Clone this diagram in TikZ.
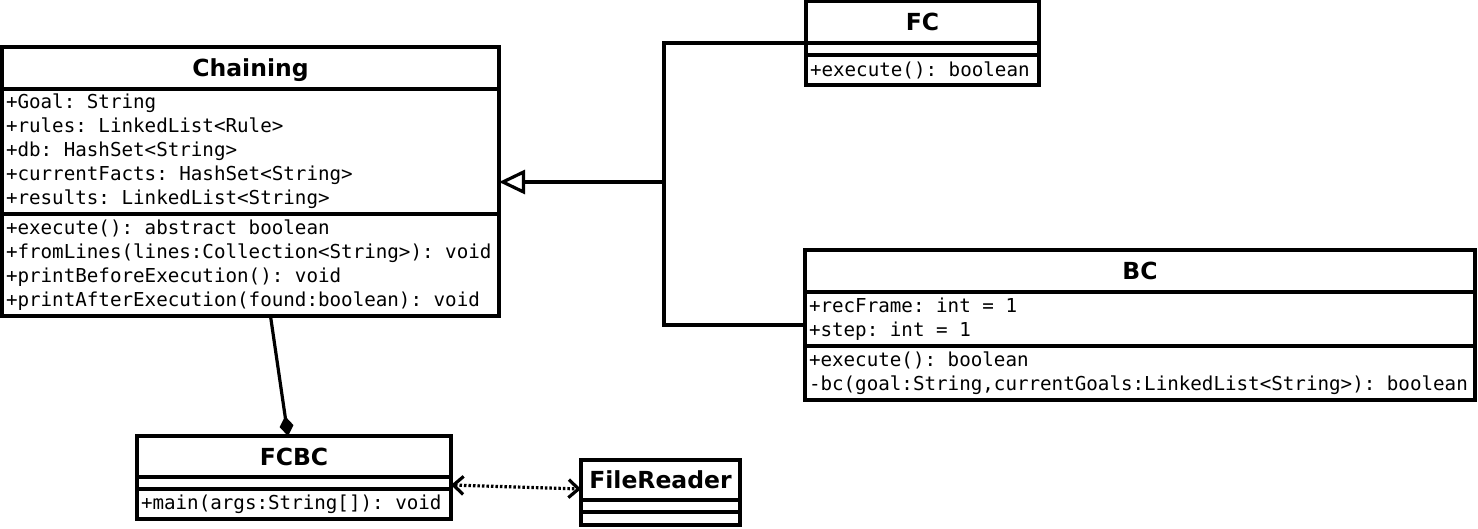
\documentclass[tikz,border=0pt]{standalone}
\usepackage{fontspec}
\usetikzlibrary{arrows.meta}
\newfontfamily\umlsans{DejaVu Sans}
\newfontfamily\umlmono{DejaVu Sans Mono}
\newcommand\gap{\phantom{x}}

\tikzset{
  part/.style={draw, line width=3.2pt, anchor=north west, inner sep=0pt, outer sep=0pt},
  head/.style={part, font=\umlsans\bfseries\fontsize{23.5}{28}\selectfont, text height=17pt, text depth=0pt},
  body/.style={part, font=\umlmono\fontsize{19.2}{24}\selectfont, align=left, inner xsep=4pt},
  conn/.style={line width=3.2pt},
}

\begin{document}
\begin{tikzpicture}[x=1pt,y=-1pt]
\useasboundingbox (0,0) rectangle (1478,528);

% Chaining
\node[head, minimum width=497pt, minimum height=42pt] (chainingT) at (2,47) {Chaining};
\node[body, text width=489pt, minimum height=125pt] (chainingA) at (chainingT.south west)
  {+Goal:\gap String\\+rules:\gap LinkedList<Rule>\\+db:\gap HashSet<String>\\+currentFacts:\gap HashSet<String>\\+results:\gap LinkedList<String>};
\node[body, text width=489pt, minimum height=102pt] (chainingM) at (chainingA.south west)
  {+execute():\gap abstract\gap boolean\\+fromLines(lines:Collection<String>):\gap void\\+printBeforeExecution():\gap void\\+printAfterExecution(found:boolean):\gap void};

% FC
\node[head, minimum width=233pt, minimum height=42pt] (fcT) at (806,1) {FC};
\node[body, text width=225pt, minimum height=12pt] (fcA) at (fcT.south west) {};
\node[body, text width=225pt, minimum height=30pt] (fcM) at (fcA.south west) {+execute():\gap boolean};

% BC
\node[head, minimum width=670pt, minimum height=42pt] (bcT) at (805,250) {BC};
\node[body, text width=662pt, minimum height=54pt] (bcA) at (bcT.south west)
  {+recFrame:\gap int\gap =\gap 1\\+step:\gap int\gap =\gap 1};
\node[body, text width=662pt, minimum height=54pt] (bcM) at (bcA.south west)
  {+execute():\gap boolean\\-bc(goal:String,currentGoals:LinkedList<String>):\gap boolean};

% FCBC
\node[head, minimum width=314pt, minimum height=41pt] (fcbcT) at (137,436) {FCBC};
\node[body, text width=306pt, minimum height=12pt] (fcbcA) at (fcbcT.south west) {};
\node[body, text width=306pt, minimum height=30pt] (fcbcM) at (fcbcA.south west) {+main(args:String[]):\gap void};

% FileReader
\node[head, minimum width=159pt, minimum height=40pt] (frT) at (581,460) {FileReader};
\node[body, text width=151pt, minimum height=12pt] (frA) at (frT.south west) {};
\node[body, text width=151pt, minimum height=13pt] (frM) at (frA.south west) {};

% generalization
\coordinate (fork) at (664,182);
\draw[conn, -{Triangle[open, length=26pt, width=24pt]}] (fork) -- (fork -| chainingA.east);
\draw[conn] (fcT.south west) -| (fork) |- ([yshift=-6pt]bcA.west);

% composition
\draw[conn, -{Diamond[length=20pt, width=14pt]}] ([xshift=20pt]chainingM.south) -- ([xshift=-6pt]fcbcT.north);

% dependency
\draw[conn, dash pattern=on 2.5pt off 2pt, {Straight Barb[length=10pt, width=18pt]}-{Straight Barb[length=10pt, width=18pt]}]
  ([yshift=-2pt]fcbcA.east) -- ([yshift=-9pt]frT.west);
\end{tikzpicture}
\end{document}
